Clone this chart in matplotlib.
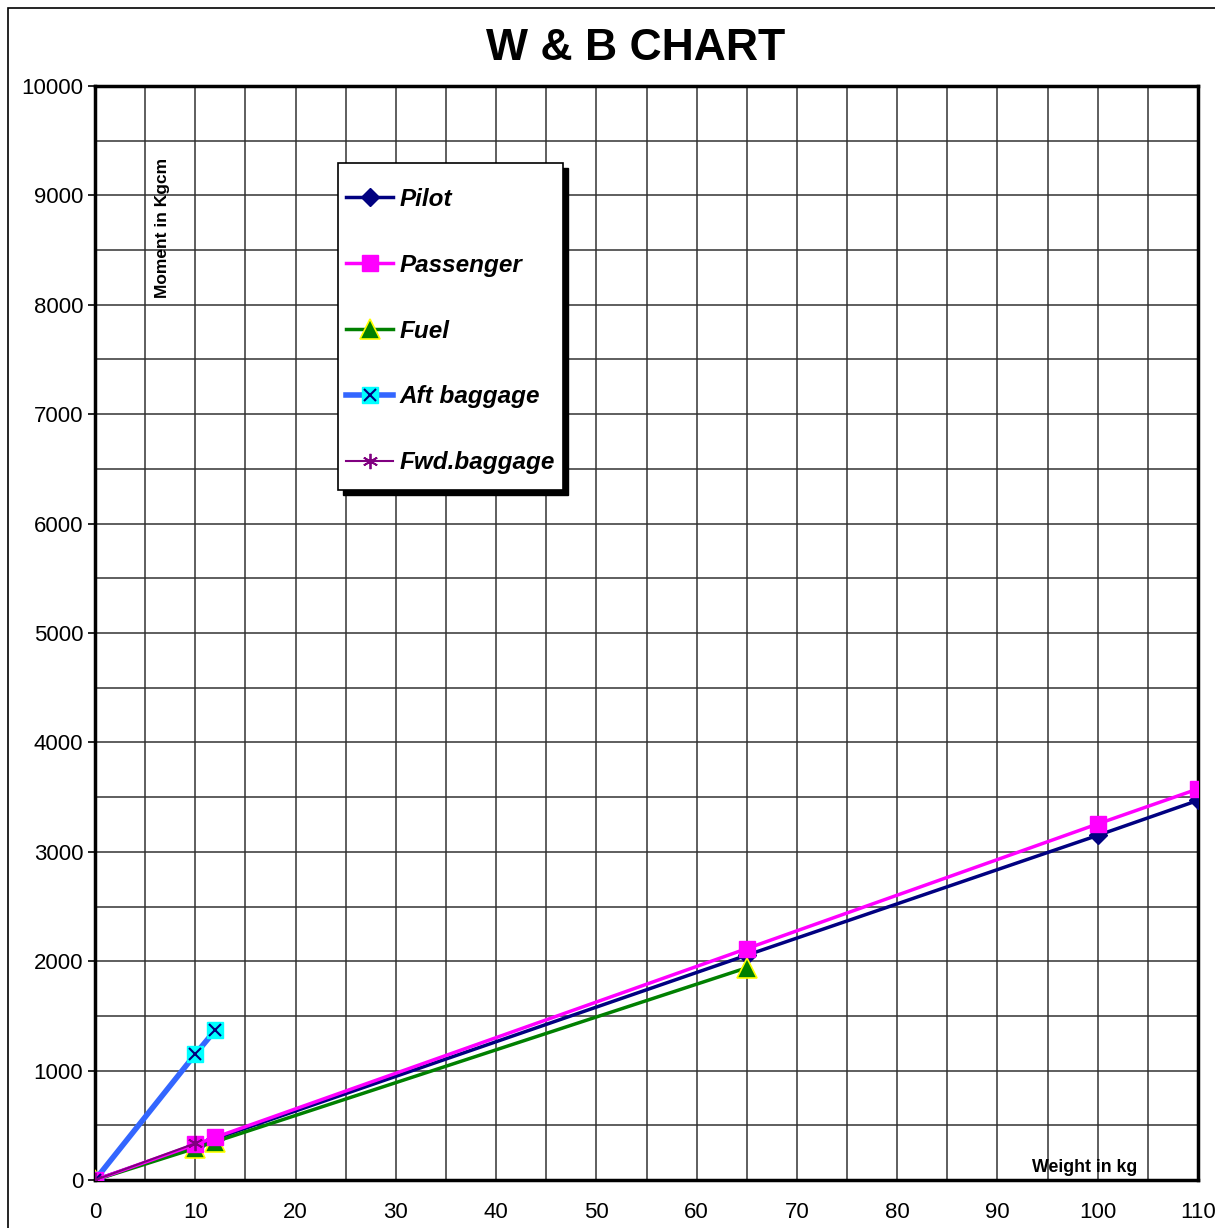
import matplotlib.pyplot as plt
from matplotlib.patches import Rectangle
from matplotlib.lines import Line2D

plt.rcParams['font.family'] = ['Liberation Sans', 'DejaVu Sans']

pilot_w = [0, 10, 12, 65, 100, 110]
pilot_m = [0, 315, 378, 2055, 3150, 3470]
pass_w = [0, 10, 12, 65, 100, 110]
pass_m = [0, 325, 390, 2115, 3255, 3575]
fuel_w = [0, 10, 12, 65]
fuel_m = [0, 290, 350, 1940]
aft_w = [0, 10, 12]
aft_m = [0, 1150, 1370]
fwd_w = [0, 10]
fwd_m = [0, 335]

W, H = 1215, 1228
fig = plt.figure(figsize=(W / 100, H / 100), dpi=100)
ax = fig.add_axes([95 / W, 1 - 1180 / H, (1198 - 95) / W, (1180 - 86) / H])


def fig_box(x0, y0, x1, y1):
    # pixel box (top-left origin) -> figure fraction rect
    return (x0 / W, 1 - y1 / H), (x1 - x0) / W, (y1 - y0) / H


# outer chart border
fig.patches.append(Rectangle((8 / W, -0.05), 1.2, 1 - 8 / H + 0.05, transform=fig.transFigure,
                             fill=False, edgecolor='black', linewidth=1.2))

ax.plot(pilot_w, pilot_m, color='#000080', lw=2.5, marker='D', ms=9,
        mfc='#000080', mec='#000080', label='Pilot', zorder=4)
ax.plot(pass_w, pass_m, color='#FF00FF', lw=2.5, marker='s', ms=11,
        mfc='#FF00FF', mec='#FF00FF', label='Passenger', zorder=5)
ax.plot(fuel_w, fuel_m, color='#008000', lw=2.5, marker='^', ms=14,
        mfc='#008000', mec='#FFFF00', mew=1.2, label='Fuel', zorder=4)
ax.plot(aft_w, aft_m, color='#3366FF', lw=4, marker='s', ms=11,
        mfc='#00FFFF', mec='#00FFFF', label='_nolegend_', zorder=4)
ax.plot(aft_w, aft_m, color='#3366FF', lw=0, marker='x', ms=9,
        mec='#000080', mew=1.5, label='_nolegend_', zorder=6)
ax.plot(fwd_w, fwd_m, color='#800080', lw=1.5, marker=(6, 2, 0), ms=11,
        mec='#800080', mew=1.3, label='Fwd.baggage', zorder=6)

ax.set_xlim(0, 110)
ax.set_ylim(0, 10000)
ax.set_xticks(range(0, 111, 10))
ax.set_yticks(range(0, 10001, 1000))
ax.set_xticks(range(5, 111, 10), minor=True)
ax.set_yticks(range(500, 10001, 1000), minor=True)
ax.grid(which='both', color='#333333', lw=1.1)
ax.set_axisbelow(True)
ax.tick_params(which='minor', length=0)
ax.tick_params(which='major', labelsize=16, length=5, width=1.2)
ax.tick_params(axis='x', pad=16, length=0)
for s in ax.spines.values():
    s.set_linewidth(2.5)

fig.text(636 / W, 1 - 48 / H, 'W & B CHART', ha='center', va='center',
         fontsize=32, fontweight='bold')
ax.text(162 / W, 1 - 228 / H, 'Moment in Kgcm', transform=fig.transFigure,
        rotation=90, ha='center', va='center', fontsize=12.5, fontweight='bold')
ax.text(1085 / W, 1 - 1167 / H, 'Weight in kg', transform=fig.transFigure,
        ha='center', va='center', fontsize=12.8, fontweight='bold')

# legend box drawn by hand (shadow + white frame), legend itself frameless
xy, bw, bh = fig_box(343, 168, 568, 495)
ax.add_patch(Rectangle(xy, bw, bh, transform=fig.transFigure, facecolor='black',
                       edgecolor='black', zorder=8, clip_on=False))
xy, bw, bh = fig_box(338, 163, 563, 490)
ax.add_patch(Rectangle(xy, bw, bh, transform=fig.transFigure, facecolor='white',
                       edgecolor='black', lw=1.2, zorder=9, clip_on=False))

h, l = ax.get_legend_handles_labels()
aft_sq = Line2D([], [], color='#3366FF', lw=4, marker='s', ms=11, mfc='#00FFFF', mec='#00FFFF')
aft_x = Line2D([], [], lw=0, marker='x', ms=9, mec='#000080', mew=1.5)
handles = h[:3] + [(aft_sq, aft_x)] + h[3:]
labels = l[:3] + ['Aft baggage'] + l[3:]
leg = ax.legend(handles, labels, loc='upper left',
                bbox_to_anchor=(346 / W, 1 - 188 / H), bbox_transform=fig.transFigure,
                prop={'size': 17.5, 'weight': 'bold', 'style': 'italic'},
                labelspacing=1.76, handlelength=1.95, handletextpad=0.25,
                borderpad=0, borderaxespad=0, frameon=False)
leg.set_zorder(10)

fig.savefig('out.png', dpi=100)
